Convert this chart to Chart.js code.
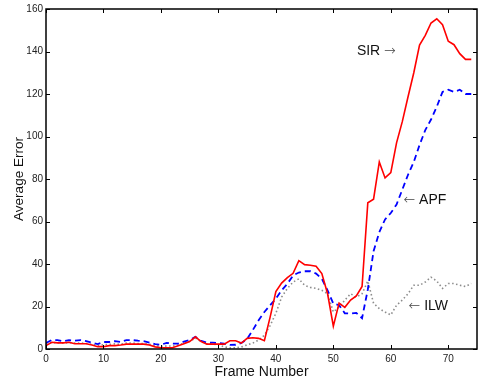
<!DOCTYPE html>
<html>
<head>
<meta charset="utf-8">
<script src="https://cdn.jsdelivr.net/npm/chart.js@4"></script>
<style>
  html, body { margin: 0; padding: 0; background: #fff; }
  #wrap { width: 479px; height: 381px; }
</style>
</head>
<body>
<div id="wrap"><canvas id="chart" width="479" height="381"></canvas></div>
<script>
// frame numbers 0..74
const frames = [];
for (let i = 0; i <= 74; i++) frames.push(i);

const sirValues = [
    1.6, 3.2, 2.9, 2.9, 3.2, 2.5, 2.5, 2.5, 1.9, 1.1,
    1.1, 1.6, 1.6, 1.9, 2.3, 2.3, 2.3, 2.3, 1.9, 1.0,
    0.6, 0.6, 0.6, 1.5, 2.5, 3.5, 5.7, 3.5, 2.3, 2.3,
    2.3, 2.3, 3.9, 3.9, 2.8, 5.0, 5.3, 5.0, 3.9, 15,
    27, 31, 33.6, 35.6, 41.6, 39.7, 39.4, 38.9, 35.5, 26,
    10.7, 21.6, 19.6, 23, 25, 29.4, 68.8, 70.5, 88, 80.5,
    83, 97, 107, 118.7, 130, 143, 147.6, 153.4, 155.4, 152.6,
    144.8, 143.2, 139, 136.3, 136.3
];

const apfValues = [
    2.8, 4.2, 4.2, 3.7, 4.2, 3.9, 4.2, 3.7, 3.0, 2.3,
    3.3, 3.3, 3.7, 3.3, 4.2, 4.2, 3.9, 3.7, 3.0, 2.3,
    2.0, 2.9, 2.5, 2.5, 3.5, 4.2, 5.7, 3.8, 3.0, 3.0,
    2.8, 2.5, 1.9, 2.0, 2.8, 4.7, 9, 13.5, 17.4, 20.6,
    23.7, 27.6, 30.7, 34.6, 36, 36.6, 36.6, 35.5, 33, 27.6,
    21.4, 20.6, 16.8, 16.7, 17, 14.5, 28, 46, 55, 61,
    64, 68, 75, 82, 88, 96, 103, 108, 114, 121,
    122, 121, 122, 120, 120
];

const ilwValues = [
    2.5, 3.0, 3.0, 2.8, 3.0, 2.8, 2.8, 2.6, 2.2, 1.6,
    2.0, 2.2, 2.4, 2.2, 2.8, 2.8, 2.6, 2.6, 2.2, 1.6,
    1.2, 1.4, 1.4, 1.8, 2.8, 3.6, 5.2, 3.4, 2.5, 2.3,
    2.0, 1.0, 0.5, 0.6, 1.0, 1.9, 2.8, 4.2, 6.5, 11,
    16.8, 24.4, 28.5, 31.5, 33, 30, 29, 28.5, 27.6, 26,
    17.4, 19.8, 23, 26, 24.4, 26, 32, 21.5, 19, 17.4,
    16, 20.6, 23, 26, 30, 30, 31.5, 33.8, 32, 28.5,
    30.8, 30.8, 30, 29.4, 30.8
];

const xTicks = [0, 10, 20, 30, 40, 50, 60, 70];
const yTicks = [0, 20, 40, 60, 80, 100, 120, 140, 160];

// arrow: 'after' puts the arrow right of the name, 'before' left of it
const labelNotes = [
    { name: 'SIR', arrow: 'after', x: 54.1, y: 140 },
    { name: 'APF', arrow: 'before', x: 62.2, y: 70 },
    { name: 'ILW', arrow: 'before', x: 63.1, y: 20 }
];

const FONT = '"Liberation Sans", Arial, Helvetica, sans-serif';
const ARROW_FONT = '200 14px "DejaVu Sans"';

// box round the plot, inward ticks on all four sides, and the line labels
const framePlugin = {
    id: 'frame',
    afterDatasetsDraw(chart) {
        const c = chart.ctx;
        const a = chart.chartArea;
        const xs = chart.scales.x;
        const ys = chart.scales.y;
        c.save();
        c.strokeStyle = '#000';
        c.lineWidth = 1;
        c.beginPath();
        xTicks.forEach(v => {
            const px = Math.round(xs.getPixelForValue(v)) + 0.5;
            c.moveTo(px, a.bottom); c.lineTo(px, a.bottom - 4);
            c.moveTo(px, a.top); c.lineTo(px, a.top + 4);
        });
        yTicks.forEach(v => {
            const py = Math.round(ys.getPixelForValue(v)) + 0.5;
            c.moveTo(a.left, py); c.lineTo(a.left + 4, py);
            c.moveTo(a.right, py); c.lineTo(a.right - 4, py);
        });
        c.stroke();
        c.lineWidth = 1.5;
        c.strokeRect(a.left, a.top, a.right - a.left, a.bottom - a.top);

        c.textBaseline = 'middle';
        c.textAlign = 'left';
        labelNotes.forEach(n => {
            let px = xs.getPixelForValue(n.x);
            const py = ys.getPixelForValue(n.y);
            const parts = n.arrow === 'after'
                ? [[n.name, '14px ' + FONT, '#111'], [' ', '14px ' + FONT, '#111'], ['\u2192', ARROW_FONT, '#444']]
                : [['\u2190', ARROW_FONT, '#444'], [' ', '14px ' + FONT, '#111'], [n.name, '14px ' + FONT, '#111']];
            parts.forEach(([t, f, col]) => {
                c.font = f;
                c.fillStyle = col;
                c.fillText(t, px, py);
                px += c.measureText(t).width;
            });
        });
        c.restore();
    }
};

new Chart(document.getElementById('chart'), {
    type: 'line',
    data: {
        labels: frames,
        datasets: [
            {
                label: 'SIR',
                data: sirValues,
                borderColor: '#ff0000',
                borderWidth: 1.6,
                pointRadius: 0,
                tension: 0,
                order: 1
            },
            {
                label: 'APF',
                data: apfValues,
                borderColor: '#0000ff',
                borderWidth: 1.8,
                borderDash: [6, 4],
                pointRadius: 0,
                tension: 0,
                order: 2
            },
            {
                label: 'ILW',
                data: ilwValues,
                borderColor: '#8c8c8c',
                borderWidth: 1.6,
                borderDash: [1.5, 2.5],
                pointRadius: 0,
                tension: 0,
                order: 3
            }
        ]
    },
    options: {
        responsive: false,
        animation: false,
        layout: { padding: { top: 7, right: 2, left: 0, bottom: 0 } },
        plugins: {
            legend: { display: false },
            tooltip: { enabled: false }
        },
        scales: {
            x: {
                type: 'linear',
                min: 0,
                max: 75,
                afterFit(scale) { scale.height = 32; },
                afterBuildTicks(scale) { scale.ticks = xTicks.map(v => ({ value: v })); },
                grid: { display: false, drawTicks: false, tickLength: 0 },
                border: { display: false },
                ticks: {
                    color: '#222',
                    padding: 4,
                    font: { family: FONT, size: 10 }
                },
                title: {
                    display: true,
                    text: 'Frame Number',
                    color: '#111',
                    padding: { top: 3, bottom: 0 },
                    font: { family: FONT, size: 14 }
                }
            },
            y: {
                min: 0,
                max: 160,
                afterFit(scale) { scale.width = 46; },
                afterBuildTicks(scale) { scale.ticks = yTicks.map(v => ({ value: v })); },
                grid: { display: false, drawTicks: false, tickLength: 0 },
                border: { display: false },
                ticks: {
                    color: '#222',
                    padding: 3,
                    font: { family: FONT, size: 10 }
                },
                title: {
                    display: true,
                    text: 'Average Error',
                    color: '#111',
                    padding: { top: 11, bottom: 0 },
                    font: { family: FONT, size: 13.5 }
                }
            }
        }
    },
    plugins: [framePlugin]
});
</script>
</body>
</html>
